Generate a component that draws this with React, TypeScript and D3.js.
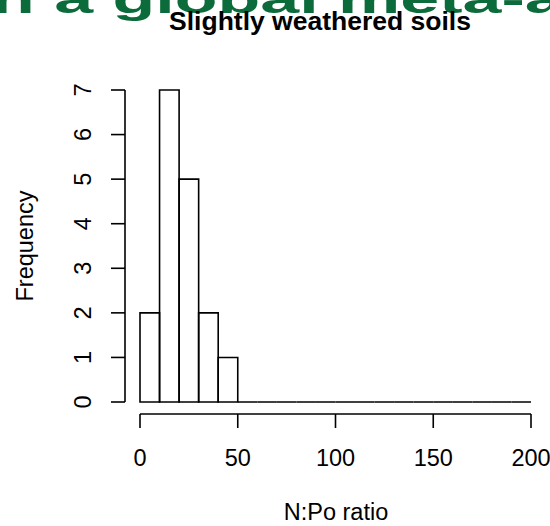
import React from "react";
import * as d3 from "d3";

const binEdges = [0, 10, 20, 30, 40, 50, 60, 70, 80, 90, 100, 110, 120, 130, 140, 150, 160, 170, 180, 190, 200];
const counts = [2, 7, 5, 2, 1, 0, 0, 0, 0, 0, 0, 0, 0, 0, 0, 0, 0, 0, 0, 0];
const xTicks = [0, 50, 100, 150, 200];
const yTicks = [0, 1, 2, 3, 4, 5, 6, 7];
const titleText = "Slightly weathered soils";
const xLabel = "N:Po ratio";
const yLabel = "Frequency";
const bannerText = "n a global meta-analysis";

export default function App() {
  const W = 550, H = 526;
  const x = d3.scaleLinear().domain([0, 200]).range([140, 531]);
  const y = d3.scaleLinear().domain([0, 7]).range([402, 90]);
  const font = "'Liberation Sans', Arial, Helvetica, sans-serif";
  const sw = 1.6;
  const axisY = 414;
  const axisX = 125;
  const fs = 23.5;
  return (
    <svg width={W} height={H} style={{ position: "absolute", left: 0, top: 0, background: "#fff" }} fontFamily={font}>
      <rect x={0} y={0} width={W} height={H} fill="#fff" />
      <text transform="translate(-8,13) scale(1.75,1)" fontSize={40} fontWeight="bold" fill="#0b6b3a">{bannerText}</text>
      <text x={320} y={30} textAnchor="middle" fontSize={26.5} fontWeight="bold" fill="#000">{titleText}</text>
      {counts.map((c, i) => {
        const x0 = x(binEdges[i]), x1 = x(binEdges[i + 1]);
        const y0 = y(0), y1 = y(c);
        const p = d3.path();
        p.moveTo(x0, y0);
        p.lineTo(x1, y0);
        p.lineTo(x1, y1);
        p.lineTo(x0, y1);
        p.closePath();
        return <path key={i} d={p.toString()} fill="none" stroke="#000" strokeWidth={sw} />;
      })}
      <line x1={x(0)} x2={x(200)} y1={axisY} y2={axisY} stroke="#000" strokeWidth={sw} />
      {xTicks.map((t) => (
        <g key={t}>
          <line x1={x(t)} x2={x(t)} y1={axisY} y2={axisY + 14} stroke="#000" strokeWidth={sw} />
          <text x={x(t)} y={466} textAnchor="middle" fontSize={fs} fill="#000">{t}</text>
        </g>
      ))}
      <text x={336} y={520} textAnchor="middle" fontSize={fs} fill="#000">{xLabel}</text>
      <line x1={axisX} x2={axisX} y1={y(0)} y2={y(7)} stroke="#000" strokeWidth={sw} />
      {yTicks.map((t) => (
        <g key={t}>
          <line x1={axisX} x2={axisX - 14} y1={y(t)} y2={y(t)} stroke="#000" strokeWidth={sw} />
          <text transform={`translate(91,${y(t)}) rotate(-90)`} textAnchor="middle" fontSize={fs} fill="#000">{t}</text>
        </g>
      ))}
      <text transform={`translate(33,246) rotate(-90)`} textAnchor="middle" fontSize={fs} fill="#000">{yLabel}</text>
    </svg>
  );
}
